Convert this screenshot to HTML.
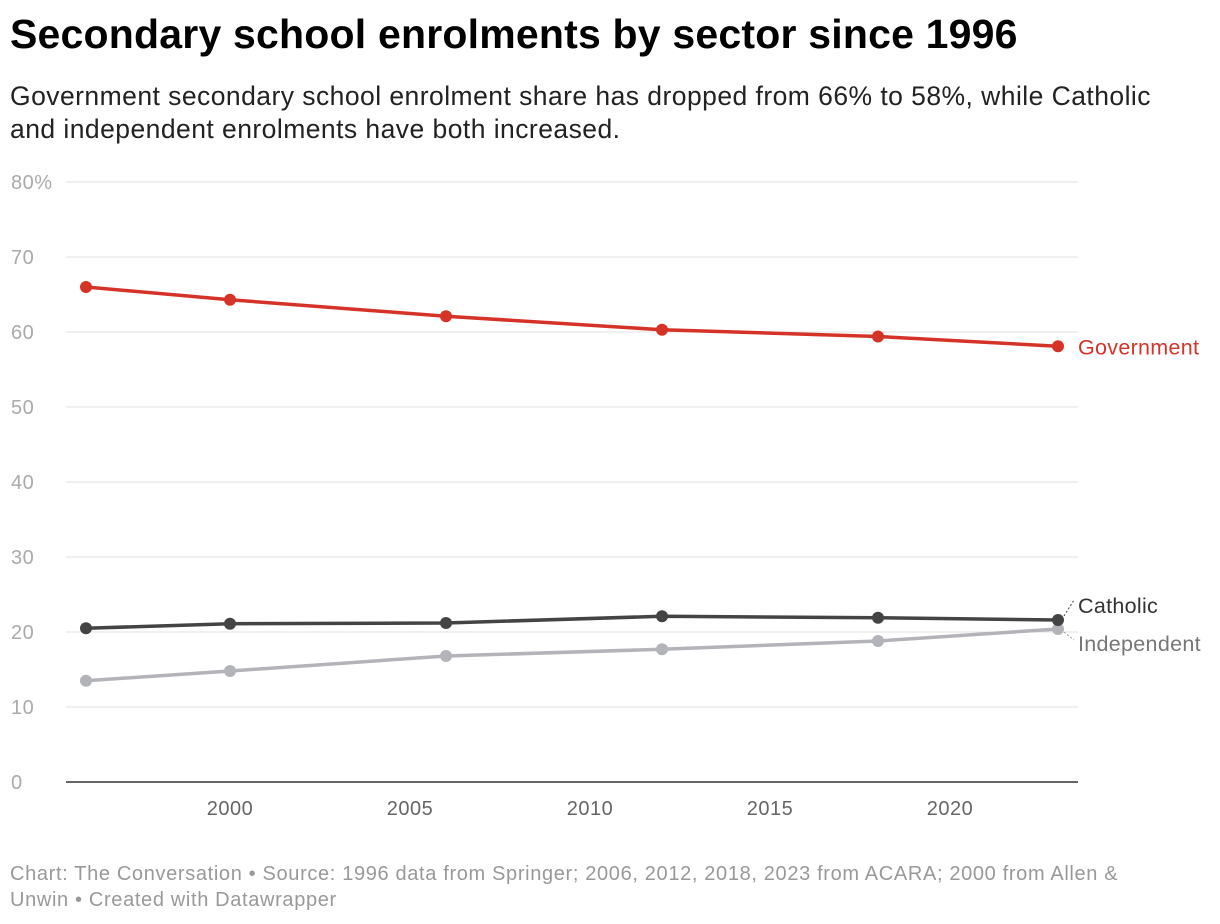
<!DOCTYPE html>
<html><head><meta charset="utf-8"><style>
body{margin:0;background:#fff;font-family:"Liberation Sans",Arial,sans-serif;}
.wrap{position:relative;width:1220px;height:924px;overflow:hidden;}
h1{position:absolute;left:10px;top:11px;margin:0;font-size:41px;font-weight:bold;color:#000;letter-spacing:0.2px;white-space:nowrap;}
.sub{position:absolute;left:10px;top:80px;margin:0;font-size:26.5px;line-height:33px;color:#222;width:1210px;letter-spacing:0.45px;white-space:nowrap;}
.foot{position:absolute;left:10px;top:861px;font-size:20px;line-height:26px;color:#999;width:1200px;letter-spacing:0.65px;white-space:nowrap;}
svg{position:absolute;left:0;top:0;}
</style></head><body><div class="wrap">
<h1>Secondary school enrolments by sector since 1996</h1>
<p class="sub">Government secondary school enrolment share has dropped from 66% to 58%, while Catholic<br>and independent enrolments have both increased.</p>
<svg id="c" width="1220" height="924"></svg>
<div class="foot">Chart: The Conversation • Source: 1996 data from Springer; 2006, 2012, 2018, 2023 from ACARA; 2000 from Allen &amp;<br>Unwin • Created with Datawrapper</div>
</div>
<script>
const years=[1996,2000,2006,2012,2018,2023];
const government=[66.0,64.3,62.1,60.3,59.4,58.1];
const catholic=[20.5,21.1,21.2,22.1,21.9,21.6];
const independent=[13.5,14.8,16.8,17.7,18.8,20.4];
const yTicks=[0,10,20,30,40,50,60,70,80];
const xTicks=[2000,2005,2010,2015,2020];
const NS="http://www.w3.org/2000/svg";
const svg=document.getElementById('c');
const x=v=>86+(v-1996)*36;
const y=v=>782-v*7.5;
function mk(t,a){const e=document.createElementNS(NS,t);for(const k in a)e.setAttribute(k,a[k]);svg.appendChild(e);return e;}
yTicks.forEach(t=>{
  const l=mk('line',{x1:66,x2:1078,y1:y(t),y2:y(t),stroke:t===0?'#333':'#e2e2e2','stroke-width':t===0?1.5:1});
  
  
  const tx=mk('text',{x:11,y:y(t)+7,'font-size':20,fill:'#aaa','font-family':'Liberation Sans, sans-serif','letter-spacing':0.5});
  tx.textContent=t===80?'80%':String(t);
  
  
});
xTicks.forEach(t=>{
  const tx=mk('text',{x:x(t),y:815,'font-size':20,fill:'#666','text-anchor':'middle','font-family':'Liberation Sans, sans-serif','letter-spacing':0.5});
  tx.textContent=String(t);
  
  
});
function series(vals,color,name){
  const p=mk('polyline',{points:vals.map((v,i)=>x(years[i])+','+y(v)).join(' '),fill:'none',stroke:color,'stroke-width':3.5,'stroke-linejoin':'round'});
  
  
  vals.forEach((v,i)=>{
    const c=mk('circle',{cx:x(years[i]),cy:y(v),r:6,fill:color});
    
    
  });
}
series(independent,'#b3b3ba','independent');
series(catholic,'#444444','catholic');
series(government,'#d63328','government');
const lx=x(2023);
function lab(txt,yy,col,name){const t=mk('text',{x:1078,y:yy,'font-size':21.5,fill:col,'font-family':'Liberation Sans, sans-serif','letter-spacing':0.3});t.textContent=txt;

}
lab('Government',y(government[5])+8,'#d63328','government-label');
lab('Catholic',613,'#333','catholic-label');
lab('Independent',651,'#777','independent-label');
const d1=mk('line',{x1:lx+6,y1:y(catholic[5])-4,x2:1074,y2:600,stroke:'#444','stroke-width':1,'stroke-dasharray':'2,2'});


const d2=mk('line',{x1:lx+6,y1:y(independent[5])+3,x2:1074,y2:640,stroke:'#999','stroke-width':1,'stroke-dasharray':'2,2'});


</script></body></html>
